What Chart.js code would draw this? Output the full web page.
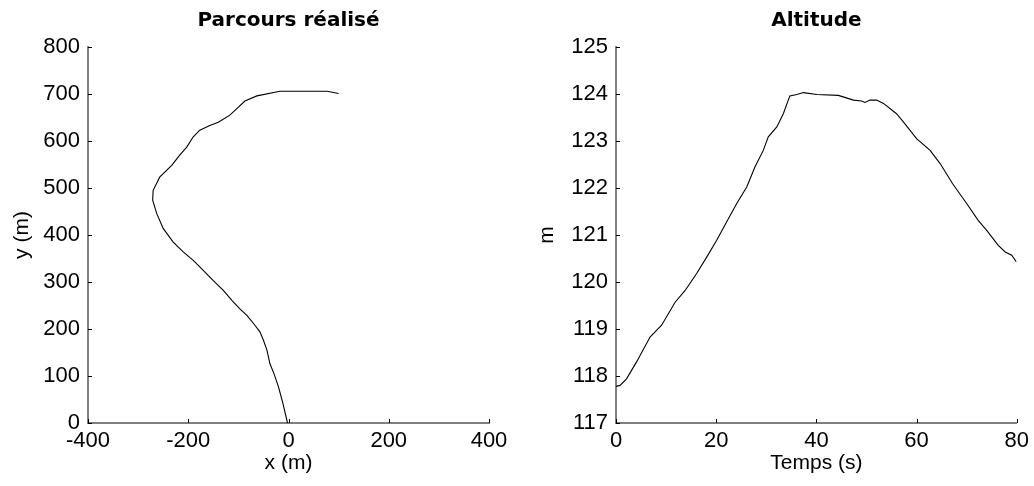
<!DOCTYPE html>
<html><head><meta charset="utf-8">
<script src="https://cdn.jsdelivr.net/npm/chart.js@4.4.0/dist/chart.umd.min.js"></script>
<style>
html,body{margin:0;padding:0;background:#fff;overflow:hidden;}
#wrap{position:relative;width:1034px;height:486px;}
canvas{position:absolute;top:0;}
</style></head><body>
<div id="wrap">
<canvas id="c1" width="520" height="486" style="left:0px"></canvas>
<canvas id="c2" width="514" height="486" style="left:520px"></canvas>
</div>
<script>
// Parcours réalisé (path, metres)
const pathX = [-2, -11, -20, -29, -37, -43, -50, -57, -67, -83, -97, -113, -130, -150, -177, -190, -210, -230, -250, -263, -271, -270, -257, -233, -217, -203, -190, -177, -157, -140, -117, -103, -87, -63, -17, 77, 100];
const pathY = [0, 41, 77, 105, 126, 155, 176, 194, 208, 229, 243, 261, 282, 303, 332, 346, 364, 385, 414, 446, 474, 495, 523, 548, 570, 587, 609, 623, 633, 640, 655, 669, 685, 696, 706, 706, 701];

// Altitude (m) vs Temps (s)
const timeS = [0, 0.8, 2.1, 4.1, 6.8, 9.1, 11.8, 13.8, 16.1, 18.1, 20.1, 22.1, 24.1, 26.1, 27.75, 29.4, 30.4, 32.1, 33.4, 34.7, 36.1, 37.4, 40.1, 44.4, 47.4, 49.0, 49.7, 50.7, 52.0, 53.4, 56.0, 57.4, 60.0, 62.7, 64.7, 67.2, 70.0, 72.3, 74.0, 76.3, 77.7, 79.0, 79.9];
const altitude = [117.78, 117.80, 117.94, 118.30, 118.83, 119.08, 119.57, 119.82, 120.18, 120.53, 120.89, 121.28, 121.67, 122.02, 122.45, 122.80, 123.09, 123.30, 123.58, 123.96, 123.99, 124.03, 123.99, 123.97, 123.87, 123.85, 123.82, 123.87, 123.87, 123.80, 123.58, 123.40, 123.05, 122.80, 122.52, 122.09, 121.67, 121.31, 121.10, 120.78, 120.64, 120.57, 120.43];

// Tick values
const pathXTicks = [-400, -200, 0, 200, 400];
const pathYTicks = [0, 100, 200, 300, 400, 500, 600, 700, 800];
const timeTicks = [0, 20, 40, 60, 80];
const altTicks = [117, 118, 119, 120, 121, 122, 123, 124, 125];

const FONT = "'Liberation Sans', Arial, Helvetica, sans-serif";
const TFONT = "'DejaVu Sans', Arial, sans-serif";

const inwardTicks = {
  id: 'inwardTicks',
  afterDatasetsDraw(chart) {
    const {ctx, chartArea: a, scales: {x, y}} = chart;
    ctx.save();
    ctx.strokeStyle = '#000';
    ctx.lineWidth = 1;
    ctx.beginPath();
    x.ticks.forEach(t => {
      const p = Math.round(x.getPixelForValue(t.value)) + 0.5;
      ctx.moveTo(p, a.bottom); ctx.lineTo(p, a.bottom - 4);
    });
    y.ticks.forEach(t => {
      const p = Math.round(y.getPixelForValue(t.value)) + 0.5;
      ctx.moveTo(a.left, p); ctx.lineTo(a.left + 4, p);
    });
    ctx.stroke();
    ctx.restore();
  }
};

function makeChart(id, xs, ys, opts) {
  const pts = xs.map((v, i) => ({x: v, y: ys[i]}));
  return new Chart(document.getElementById(id), {
    type: 'scatter',
    data: {datasets: [{
      data: pts, showLine: true, borderColor: '#000', borderWidth: 1.1,
      pointRadius: 0, fill: false, tension: 0
    }]},
    plugins: [inwardTicks],
    options: {
      responsive: false, animation: false, devicePixelRatio: 1,
      layout: {padding: {left: 0, right: opts.padRight, top: 0, bottom: 0}},
      plugins: {
        legend: {display: false}, tooltip: {enabled: false},
        title: {display: true, text: opts.title, fullSize: false, color: '#000',
          font: {family: TFONT, size: 20, weight: 'bold'}, padding: {top: 9, bottom: 14}}
      },
      scales: {
        x: {
          type: 'linear', min: opts.xTicks[0], max: opts.xTicks[opts.xTicks.length - 1],
          afterBuildTicks: s => { s.ticks = opts.xTicks.map(v => ({value: v})); },
          afterFit: s => { s.height = 63; },
          grid: {display: false, drawTicks: false},
          border: {display: true, color: '#808080', width: 2},
          ticks: {color: '#000', font: {family: FONT, size: 22}, padding: 5, maxRotation: 0, autoSkip: false},
          title: {display: true, text: opts.xTitle, color: '#000', font: {family: FONT, size: 21}, padding: {top: 0, bottom: 10.4}}
        },
        y: {
          type: 'linear', min: opts.yTicks[0], max: opts.yTicks[opts.yTicks.length - 1],
          afterBuildTicks: s => { s.ticks = opts.yTicks.map(v => ({value: v})); },
          afterFit: s => { s.width = opts.yWidth; },
          grid: {display: false, drawTicks: false},
          border: {display: true, color: '#808080', width: 2},
          ticks: {color: '#000', font: {family: FONT, size: 22}, padding: 8, autoSkip: false},
          title: {display: true, text: opts.yTitle, color: '#000', font: {family: FONT, size: 21}, padding: {top: opts.yTitlePad, bottom: 0}}
        }
      }
    }
  });
}

makeChart('c1', pathX, pathY, {
  title: 'Parcours réalisé', xTitle: 'x (m)', yTitle: 'y (m)',
  xTicks: pathXTicks, yTicks: pathYTicks, yWidth: 88, padRight: 31, yTitlePad: 10
});
makeChart('c2', timeS, altitude, {
  title: 'Altitude', xTitle: 'Temps (s)', yTitle: 'm',
  xTicks: timeTicks, yTicks: altTicks, yWidth: 96, padRight: 17, yTitlePad: 14.4
});
</script>
</body></html>
